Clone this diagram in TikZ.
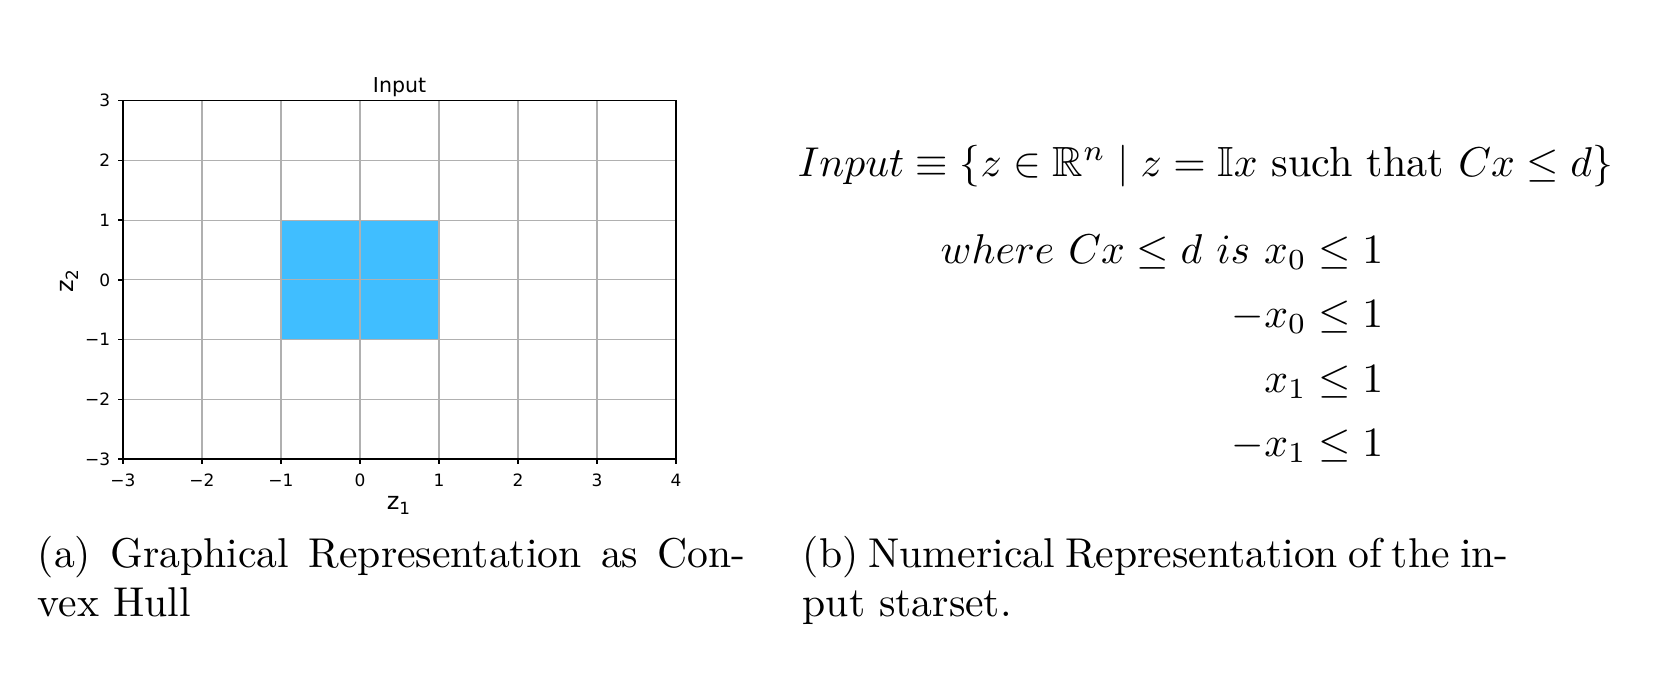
\documentclass[tikz,border=0pt]{standalone}
\usepackage{amsmath}
\usepackage{amssymb}
\usepackage{fontspec}
\newfontfamily\dejavu{DejaVu Sans}
\definecolor{fillblue}{RGB}{64,190,255}
\definecolor{gridgray}{RGB}{176,176,176}
\tikzset{
  ticklbl/.style={font=\dejavu\fontsize{4.08}{5}\selectfont, inner sep=0pt},
  axlbl/.style={font=\dejavu\fontsize{5.76}{7}\selectfont, inner sep=0pt},
  titlelbl/.style={font=\dejavu\fontsize{4.92}{6}\selectfont, inner sep=0pt},
  txt/.style={font=\fontsize{10}{12}\selectfont, inner sep=0pt},
  mathtxt/.style={font=\fontsize{10.13}{12}\selectfont, inner sep=0pt},
  spine/.style={line width=0.32pt, black},
  gridline/.style={line width=0.26pt, gridgray}
}
\begin{document}
\begin{tikzpicture}[x=0.24pt,y=-0.24pt]
\useasboundingbox (0,0) rectangle (1666,676);
% ---------- plot ----------
\begin{scope}[shift={(360,279.85)}, x=18.96pt, y=14.328pt]
  \fill[fillblue] (-1,-1) rectangle (1,1);
  \foreach \v in {-2,...,3}{ \draw[gridline] (\v,-3) -- (\v,3); }
  \foreach \v in {-2,...,2}{ \draw[gridline] (-3,\v) -- (4,\v); }
  \draw[spine] (-3,-3) rectangle (4,3);
  \foreach \v/\t in {-3/−3,-2/−2,-1/−1,0/0,1/1,2/2,3/3,4/4}{
    \draw[spine] (\v,-3) -- ++(0,-1.27pt);
    \node[ticklbl, anchor=base] (xt\v) at (\v,-3) [yshift=-6.5pt] {\t};
  }
  \foreach \v/\t in {-3/−3,-2/−2,-1/−1,0/0,1/1,2/2,3/3}{
    \draw[spine] (-3,\v) -- ++(-1.27pt,0);
    \node[ticklbl, anchor=east] (yt\v) at (-3,\v) [xshift=-2.9pt] {\t};
  }
  \node[titlelbl, anchor=base] (title) at (0.5,3) [yshift=2.1pt] {Input};
  \node[axlbl, anchor=base] (xlab) at (0.5,-3) [yshift=-12.25pt] {z\textsubscript{1}};
\end{scope}
\node[axlbl, anchor=base, rotate=90] (ylab) at (74,280) {z\textsubscript{2}};
% ---------- math ----------
\node[mathtxt, anchor=base west] (eq) at (797,176)
  {$Input \equiv \{z \in \mathbb{R}^n \mid z = \mathbb{I}x \text{ such that } Cx \leq d\}$};
\node[mathtxt, anchor=base east] (c1) at (1384,263) {$where\ Cx \leq d\ is\ x_0 \leq 1$};
\node[mathtxt, anchor=base east] (c2) at (1384,327) {$-x_0 \leq 1$};
\node[mathtxt, anchor=base east] (c3) at (1384,392) {$x_1 \leq 1$};
\node[mathtxt, anchor=base east] (c4) at (1384,456) {$-x_1 \leq 1$};
% ---------- captions ----------
\node[txt, anchor=base west] (capa1) at (37,567) {\makebox[169.9pt][s]{(a) Graphical Representation as Con-}};
\node[txt, anchor=base west] (capa2) at (37,616) {vex Hull};
\node[txt, anchor=base west] (capb1) at (802,567) {\makebox[169.4pt][s]{(b) Numerical Representation of the in-}};
\node[txt, anchor=base west] (capb2) at (802,616) {put starset.};
\end{tikzpicture}
\end{document}
